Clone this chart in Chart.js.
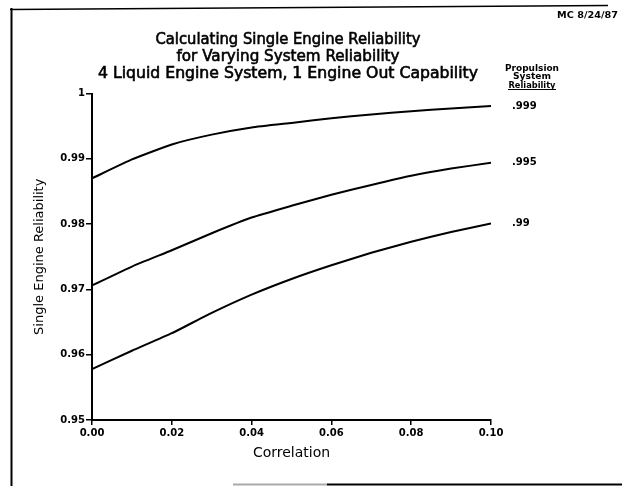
<!DOCTYPE html>
<html><head><meta charset="utf-8">
<script src="https://cdn.jsdelivr.net/npm/chart.js@4.4.1/dist/chart.umd.min.js"></script>
<style>html,body{margin:0;padding:0;background:#fff;overflow:hidden}#wrap{width:622px;height:486px;position:relative}canvas{display:block}</style>
</head><body><div id="wrap"><canvas id="c" width="622" height="486"></canvas></div>
<script>
// ---- data ----
const correlation = [0.00, 0.01, 0.02, 0.03, 0.04, 0.05, 0.06, 0.07, 0.08, 0.09, 0.10];
const rel999 = [0.9870, 0.9899, 0.9922, 0.9937, 0.9948, 0.9955, 0.9962, 0.9968, 0.9973, 0.9977, 0.9981];
const rel995 = [0.9706, 0.9735, 0.9760, 0.9786, 0.9810, 0.9828, 0.9845, 0.9860, 0.9874, 0.9885, 0.9894];
const rel990 = [0.9578, 0.9606, 0.9633, 0.9664, 0.9692, 0.9716, 0.9737, 0.9756, 0.9773, 0.9788, 0.9801];
const seriesLabels = ['.999', '.995', '.99'];
const xTicks = [0.00, 0.02, 0.04, 0.06, 0.08, 0.10];
const yTicks = [0.95, 0.96, 0.97, 0.98, 0.99, 1];
const titleLines = ['Calculating Single Engine Reliability', 'for Varying System Reliability', '4 Liquid Engine System, 1 Engine Out Capability'];
const legendHeader = ['Propulsion', 'System', 'Reliability'];
const stampText = 'MC 8/24/87';
const xTitle = 'Correlation';
const yTitle = 'Single Engine Reliability';

function toPoints(ys) { return ys.map((y, i) => ({ x: correlation[i], y: y })); }
const seriesValues = [rel999, rel995, rel990];

function fitText(ctx, text, cx, y, font, width, stroke) {
  ctx.save();
  ctx.font = font;
  const w = ctx.measureText(text).width;
  const s = width / w;
  ctx.translate(cx, y);
  ctx.scale(s, 1);
  ctx.textAlign = 'center';
  ctx.textBaseline = 'alphabetic';
  ctx.fillStyle = '#000';
  ctx.fillText(text, 0, 0);
  if (stroke) {
    ctx.strokeStyle = '#000';
    ctx.lineWidth = stroke;
    ctx.strokeText(text, 0, 0);
  }
  ctx.restore();
}

const decor = {
  id: 'decor',
  afterDraw(chart) {
    const ctx = chart.ctx;
    ctx.save();
    // frame
    ctx.strokeStyle = '#000';
    ctx.lineWidth = 2;
    ctx.beginPath(); ctx.moveTo(11.5, 8); ctx.lineTo(11.5, 486); ctx.stroke();
    ctx.lineWidth = 1.5;
    ctx.beginPath(); ctx.moveTo(10, 9.5); ctx.lineTo(608, 5.5); ctx.stroke();
    ctx.lineWidth = 2;
    ctx.beginPath(); ctx.moveTo(327, 484.5); ctx.lineTo(622, 484.5); ctx.stroke();
    ctx.strokeStyle = '#aaa';
    ctx.beginPath(); ctx.moveTo(233, 484.5); ctx.lineTo(327, 484.5); ctx.stroke();
    // title
    const tw = [265, 223, 380];
    const tb = [44, 61, 78];
    titleLines.forEach((t, i) => fitText(ctx, t, 288, tb[i], '15px "DejaVu Sans"', tw[i], 0.6));
    // stamp
    fitText(ctx, stampText, 587.5, 18, 'bold 9px "DejaVu Sans"', 61);
    // legend header
    const lw = [54, 38, 47];
    const lb = [70.5, 79, 87.5];
    legendHeader.forEach((t, i) => fitText(ctx, t, 532, lb[i], 'bold 8px "DejaVu Sans"', lw[i]));
    ctx.strokeStyle = '#000';
    ctx.lineWidth = 1;
    ctx.beginPath(); ctx.moveTo(508, 89.5); ctx.lineTo(556, 89.5); ctx.stroke();
    // end labels
    ctx.font = 'bold 10px "DejaVu Sans"';
    ctx.fillStyle = '#000';
    ctx.textAlign = 'left';
    ctx.textBaseline = 'middle';
    chart.data.datasets.forEach((ds, i) => {
      const meta = chart.getDatasetMeta(i);
      const pt = meta.data[meta.data.length - 1];
      ctx.fillText(seriesLabels[i], 512, pt.y);
    });
    ctx.restore();
  }
};

Chart.defaults.font.family = '"DejaVu Sans"';
Chart.defaults.color = '#000';

new Chart(document.getElementById('c'), {
  type: 'line',
  data: {
    datasets: seriesValues.map((vals, i) => ({
      label: seriesLabels[i],
      data: toPoints(vals),
      borderColor: '#000',
      borderWidth: 2,
      pointRadius: 0,
      fill: false,
      tension: 0.15
    }))
  },
  options: {
    responsive: false,
    devicePixelRatio: 1,
    animation: false,
    layout: { padding: { left: 0, right: 131, top: 93.5, bottom: 24 } },
    plugins: { legend: { display: false }, tooltip: { enabled: false }, title: { display: false } },
    scales: {
      x: {
        type: 'linear',
        min: 0, max: 0.1,
        afterBuildTicks: s => { s.ticks = xTicks.map(v => ({ value: v })); },
        afterFit: s => { s.height = 42; },
        ticks: {
          callback: v => Number(v).toFixed(2),
          font: { family: '"DejaVu Sans"', size: 10, weight: 'bold' },
          color: '#000',
          padding: 2,
          maxRotation: 0,
          autoSkip: false
        },
        grid: { drawOnChartArea: false, drawTicks: true, tickLength: 5, color: '#000', lineWidth: 1.5 },
        border: { display: true, color: '#000', width: 2 },
        title: { display: true, text: xTitle, font: { family: '"DejaVu Sans"', size: 14 }, color: '#000', padding: { top: 0, bottom: 0 } }
      },
      y: {
        type: 'linear',
        min: 0.95, max: 1,
        afterBuildTicks: s => { s.ticks = yTicks.map(v => ({ value: v })); },
        afterFit: s => { s.width = 92; },
        ticks: {
          callback: v => (Math.abs(v - 1) < 1e-9 ? '1' : Number(v).toFixed(2)),
          font: { family: '"DejaVu Sans"', size: 10, weight: 'bold' },
          color: '#000',
          padding: 1,
          autoSkip: false
        },
        grid: { drawOnChartArea: false, drawTicks: true, tickLength: 6, color: '#000', lineWidth: 1.5 },
        border: { display: true, color: '#000', width: 2 },
        title: { display: true, text: yTitle, font: { family: '"DejaVu Sans"', size: 13 }, color: '#000', padding: { top: 32, bottom: 0 } }
      }
    }
  },
  plugins: [decor]
});
</script>
</body></html>
